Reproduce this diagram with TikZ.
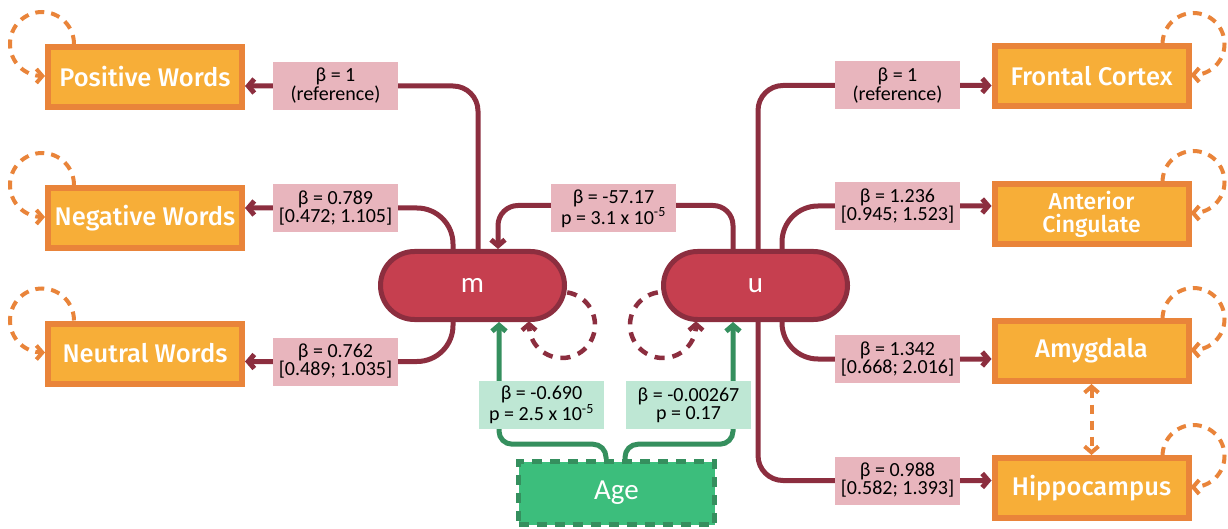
\documentclass[tikz,border=0pt]{standalone}
\usepackage{fontspec}
\setmainfont{Carlito}
\newfontfamily\boxfont{Fira Sans Medium}
\usetikzlibrary{arrows.meta,calc,backgrounds}
\definecolor{orF}{HTML}{F7AE38}
\definecolor{orD}{HTML}{E9843A}
\definecolor{rF}{HTML}{C63F4F}
\definecolor{rD}{HTML}{8C2E3F}
\definecolor{pk}{HTML}{E8B5BD}
\definecolor{gF}{HTML}{3CBE7C}
\definecolor{gD}{HTML}{358F5E}
\definecolor{gL}{HTML}{BEE7D4}
\tikzset{
  arw/.tip={Straight Barb[length=6pt,width=14pt]},
  obox/.style={draw=orD, fill=orF, line width=6pt, minimum width=194pt, minimum height=60pt, inner sep=0pt, text=white, font=\boxfont\fontsize{25.5}{27}\selectfont, align=center},
  lat/.style={draw=rD, fill=rF, line width=5pt, rounded corners=34pt, minimum width=184pt, minimum height=68pt, text=white, font=\fontsize{29}{30}\selectfont},
  agebox/.style={draw=gD, fill=gF, line width=5pt, dash pattern=on 10pt off 8pt, minimum width=196pt, minimum height=63pt, text=white, font=\fontsize{29}{30}\selectfont},
  plab/.style={fill=pk, minimum width=125pt, minimum height=48pt, inner sep=0pt, align=center, font=\fontsize{20}{18}\selectfont},
  glab/.style={plab, fill=gL},
  rline/.style={draw=rD, line width=5pt},
  gline/.style={draw=gD, line width=5pt},
  oloop/.style={draw=orD, line width=4pt, dash pattern=on 9pt off 7pt},
  mloop/.style={draw=rD, line width=4.5pt, dash pattern=on 10pt off 8pt},
}
\begin{document}
\begin{tikzpicture}[x=1pt,y=-1pt]
\useasboundingbox (0,0) rectangle (1228,529);
% boxes
\node[obox] (pos) at (145,77) {Positive Words};
\node[obox] (neg) at (145,218) {Negative Words};
\node[obox] (neu) at (145,353.5) {Neutral Words};
\node[obox] (fc) at (1091.5,76) {Frontal Cortex};
\node[obox, font=\boxfont\fontsize{23}{23}\selectfont] (ac) at (1091.5,214) {Anterior\\Cingulate};
\node[obox] (amy) at (1091.5,351) {Amygdala};
\node[obox] (hip) at (1091.5,488) {Hippocampus};
\node[lat] (m) at (472.5,285.5) {m};
\node[lat] (u) at (755.5,285.5) {u};
\node[agebox] (age) at (616.5,493) {Age};
% labels
\node[plab] (lp) at (335.5,86) {β = 1\\(reference)};
\node[plab] (ln) at (335.5,208) {β = 0.789\\{[}0.472; 1.105{]}};
\node[plab] (lu) at (335.5,361.5) {β = 0.762\\{[}0.489; 1.035{]}};
\node[plab] (rf) at (897.5,85.5) {β = 1\\(reference)};
\node[plab] (ra) at (897.5,206) {β = 1.236\\{[}0.945; 1.523{]}};
\node[plab] (ram) at (897.5,359) {β = 1.342\\{[}0.668; 2.016{]}};
\node[plab] (rh) at (897.5,480.5) {β = 0.988\\{[}0.582; 1.393{]}};
\node[plab] (lmu) at (613.5,208.5) {β = -57.17\\p = 3.1 x 10\textsuperscript{-5}};
\node[glab] (ga) at (541.5,405) {β = -0.690\\p = 2.5 x 10\textsuperscript{-5}};
\node[glab] (gu) at (688.5,405) {β = -0.00267\\p = 0.17};
\begin{scope}[on background layer]
% m loadings
\draw[rline, rounded corners=25pt, -arw] ($(m.north)+(5.5,0)$) |- (pos.east |- lp.center);
\draw[rline, rounded corners=36pt, -arw] ($(m.north)+(-19.5,0)$) |- (neg.east |- ln.center);
\draw[rline, rounded corners=36pt, -arw] ($(m.south)+(-19.5,0)$) |- (neu.east |- lu.center);
% u loadings
\draw[rline, rounded corners=25pt, -arw] ($(u.north)+(2.5,0)$) |- (fc.west |- rf.center);
\draw[rline, rounded corners=36pt, -arw] ($(u.north)+(26.5,0)$) |- (ac.west |- ra.center);
\draw[rline, rounded corners=36pt, -arw] ($(u.south)+(26.5,0)$) |- (amy.west |- ram.center);
\draw[rline, rounded corners=25pt, -arw] ($(u.south)+(2.5,0)$) |- (hip.west |- rh.center);
% u -> m
\draw[rline, rounded corners=20pt, -arw] ($(u.north)+(-22.5,0)$) |- ($(lmu.center)+(0,-3)$) -| ($(m.north)+(25.5,0)$);
% age
\draw[gline, rounded corners=13pt, -arw] ($(age.north)+(-10.5,0)$) |- ($(ga.south)+(0,15)$) -| ($(m.south)+(26.5,0)$);
\draw[gline, rounded corners=13pt, -arw] ($(age.north)+(8.5,0)$) |- ($(gu.south)+(0,15)$) -| ($(u.south)+(-22.5,0)$);
\end{scope}
% residual loops
\draw[oloop, -arw] ($(pos.north west)+(-3,0)$) ++(0:32) arc(0:-270:32) -- ++(3,0);
\draw[oloop, -arw] ($(neg.north west)+(-3,0)$) ++(0:32) arc(0:-270:32) -- ++(3,0);
\draw[oloop, -arw] ($(neu.north west)+(-3,0)$) ++(0:32) arc(0:-270:32) -- ++(3,0);
\draw[oloop, -arw] ($(fc.north east)+(2,1)$) ++(180:31) arc(180:450:31) -- ++(-3,0);
\draw[oloop, -arw] ($(ac.north east)+(2,1)$) ++(180:31) arc(180:450:31) -- ++(-3,0);
\draw[oloop, -arw] ($(amy.north east)+(2,1)$) ++(180:31) arc(180:450:31) -- ++(-3,0);
\draw[oloop, -arw] ($(hip.north east)+(2,1)$) ++(180:31) arc(180:450:31) -- ++(-3,0);
\draw[mloop, -arw] ($(m.center)+(89.5,39.5)$) ++(-81:33) arc(-81:183:33) -- ++(0,-2);
\draw[mloop, -arw] ($(u.center)+(-92.5,39.5)$) ++(-99:33) arc(-99:-363:33) -- ++(0,-2);
\draw[oloop, arw-arw] (amy.south) -- (hip.north);
\end{tikzpicture}
\end{document}
